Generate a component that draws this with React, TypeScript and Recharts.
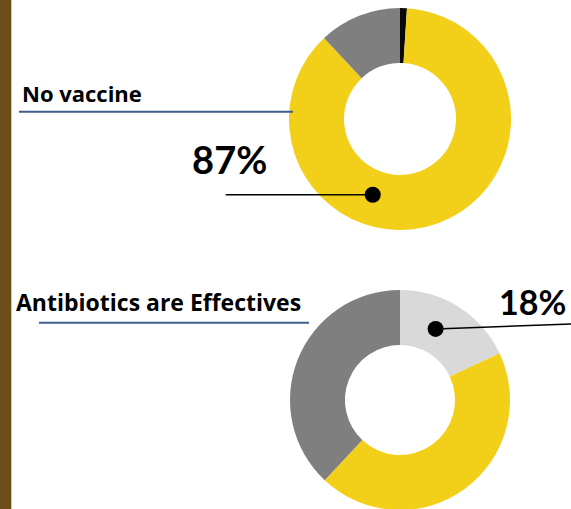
import React from "react";
import { PieChart, Pie, Cell } from "recharts";

// survey answers, percent of respondents
const vaccineNames = ["Unknown", "No vaccine", "Vaccinated"];
const vaccineValues = [1, 87, 12];
const vaccineColors = ["#0a0a0a", "#F2D019", "#7F7F7F"];

const antibioticNames = ["Effective", "Not effective", "Not sure"];
const antibioticValues = [18, 44, 38];
const antibioticColors = ["#D9D9D9", "#F2D019", "#7F7F7F"];

const titles = ["No vaccine", "Antibiotics are Effectives"];

const W = 571;
const H = 509;
const RAD = Math.PI / 180;
const NUM_FONT = "Lato, 'Open Sans', sans-serif";
const TITLE_FONT = "'Open Sans', 'Noto Sans', sans-serif";

const vaccineData = vaccineNames.map((name, i) => ({ name, value: vaccineValues[i] }));
const antibioticData = antibioticNames.map((name, i) => ({ name, value: antibioticValues[i] }));

type CalloutOpts = {
  index: number; // slice that gets the callout
  angle: number; // where the dot sits on the ring (deg, recharts convention)
  line: [number, number]; // leader end, relative to the dot
  text: [number, number]; // value text position, relative to the dot
  fontSize: number;
};

const callout = (opts: CalloutOpts) => (props: any) => {
  if (props.index !== opts.index) return null;
  const { cx, cy, innerRadius, outerRadius, value } = props;
  const r = (innerRadius + outerRadius) / 2 - 3;
  const x = cx + r * Math.cos(-opts.angle * RAD);
  const y = cy + r * Math.sin(-opts.angle * RAD);
  return (
    <g>
      <line x1={x} y1={y} x2={x + opts.line[0]} y2={y + opts.line[1]} stroke="#000" strokeWidth={1.5} />
      <circle cx={x} cy={y} r={8} fill="#000" />
      <text
        x={x + opts.text[0]}
        y={y + opts.text[1]}
        textAnchor="middle"
        fontFamily={NUM_FONT}
        fontWeight={700}
        fontSize={opts.fontSize}
        fill="#000"
      >
        {`${value}%`}
      </text>
    </g>
  );
};

export default function App() {
  return (
    <div style={{ position: "absolute", left: 0, top: 0, width: W, height: H, background: "#fff", overflow: "hidden" }}>
      <PieChart
        width={W}
        height={H}
        margin={{ top: 0, right: 0, bottom: 0, left: 0 }}
        style={{ position: "absolute", left: 0, top: 0 }}
      >
        <Pie
          data={vaccineData}
          dataKey="value"
          nameKey="name"
          cx={400}
          cy={119}
          innerRadius={56}
          outerRadius={111}
          startAngle={90}
          endAngle={-270}
          stroke="none"
          isAnimationActive={false}
          labelLine={false}
          label={callout({ index: 1, angle: -109.8, line: [-147, 0], text: [-143, -21], fontSize: 38 })}
        >
          {vaccineData.map((d, i) => (
            <Cell key={d.name} fill={vaccineColors[i]} />
          ))}
        </Pie>
        <Pie
          data={antibioticData}
          dataKey="value"
          nameKey="name"
          cx={400}
          cy={400}
          innerRadius={55}
          outerRadius={110}
          startAngle={90}
          endAngle={-270}
          stroke="none"
          isAnimationActive={false}
          labelLine={false}
          label={callout({ index: 0, angle: 63.4, line: [140, -5], text: [97, -14], fontSize: 34 })}
        >
          {antibioticData.map((d, i) => (
            <Cell key={d.name} fill={antibioticColors[i]} />
          ))}
        </Pie>
      </PieChart>

      {/* side bar, headings and their rules */}
      <svg width={W} height={H} style={{ position: "absolute", left: 0, top: 0, pointerEvents: "none" }}>
        <rect x={0} y={0} width={11} height={H} fill="#6D4D1A" />
        <rect x={11} y={0} width={1} height={H} fill="#D6C7A6" />
        <text x={22} y={101.5} fontFamily={TITLE_FONT} fontWeight={700} fontSize={22} fill="#000">
          {titles[0]}
        </text>
        <line x1={19} y1={111.7} x2={293} y2={111.7} stroke="#3F5E8C" strokeWidth={2} />
        <text x={16} y={310.5} fontFamily={TITLE_FONT} fontWeight={700} fontSize={23} fill="#000">
          {titles[1]}
        </text>
        <line x1={39} y1={322.7} x2={309} y2={322.7} stroke="#3F5E8C" strokeWidth={2} />
      </svg>
    </div>
  );
}
